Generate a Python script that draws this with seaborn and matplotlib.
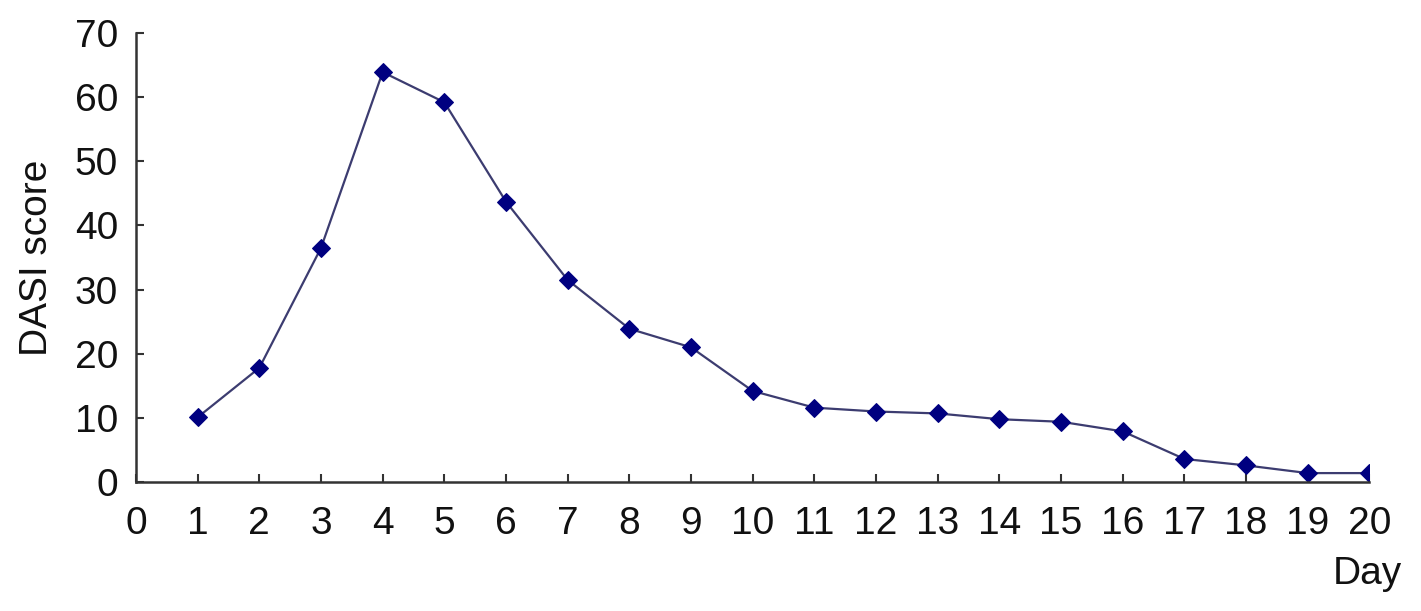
import matplotlib
matplotlib.use("Agg")
import matplotlib.pyplot as plt
import seaborn as sns
import pandas as pd

days = list(range(1, 21))
dasi = [10.1, 17.8, 36.5, 63.9, 59.2, 43.7, 31.5, 23.9, 21.0, 14.2,
        11.6, 11.0, 10.7, 9.8, 9.4, 7.9, 3.6, 2.6, 1.4, 1.4]
xticks = list(range(0, 21))
yticks = list(range(0, 71, 10))

sns.set_style("white")
plt.rcParams['font.family'] = ['Liberation Sans', 'DejaVu Sans']

df = pd.DataFrame({"Day": days, "DASI": dasi})

fig = plt.figure(figsize=(14.21, 6.11), dpi=100)
ax = fig.add_axes([0.0957, 0.211, 0.868, 0.735])
sns.lineplot(data=df, x="Day", y="DASI", ax=ax, color="#3c3c70", linewidth=1.6,
             marker="D", markersize=9, markerfacecolor="#000080",
             markeredgecolor="#000080")

ax.set_xlim(0, 20)
ax.set_ylim(0, 70)
ax.set_xticks(xticks)
ax.set_yticks(yticks)
ax.tick_params(axis="both", direction="in", length=6, width=1.5, color="#333333",
               labelsize=28, labelcolor="#111111", left=True, bottom=True)
ax.tick_params(axis="x", pad=17)
ax.tick_params(axis="y", pad=13)
for s in ["top", "right"]:
    ax.spines[s].set_visible(False)
for s in ["left", "bottom"]:
    ax.spines[s].set_color("#333333")
    ax.spines[s].set_linewidth(1.8)

ax.set_ylabel("DASI score", fontsize=28, color="#111111")
ax.yaxis.set_label_coords(-0.066, 0.5)
ax.set_xlabel("Day", fontsize=28, color="#111111")
ax.xaxis.label.set_horizontalalignment("center")
ax.xaxis.set_label_coords(0.998, -0.165)

fig.savefig("out.png", dpi=100)
